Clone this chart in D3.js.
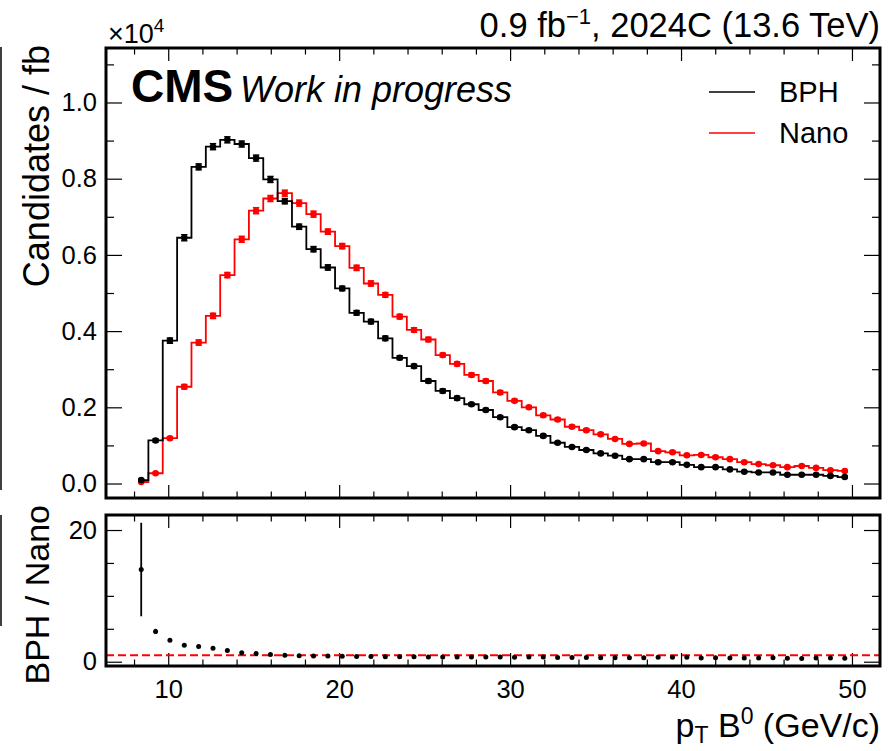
<!DOCTYPE html>
<html><head><meta charset="utf-8">
<script src="https://cdn.jsdelivr.net/npm/d3@7"></script>
<style>body{margin:0;background:#fff}svg{display:block}text{font-family:"Liberation Sans",Arial,Helvetica,sans-serif;fill:#000}</style>
</head><body><div id="chart"></div>
<script>
// ---- data ----
const binCenters = [8.42,9.26,10.10,10.94,11.78,12.62,13.46,14.30,15.14,15.98,16.82,17.66,18.50,19.34,20.18,21.02,21.86,22.70,23.54,24.38,25.22,26.06,26.90,27.74,28.58,29.42,30.26,31.10,31.94,32.78,33.62,34.46,35.30,36.14,36.98,37.82,38.66,39.50,40.34,41.18,42.02,42.86,43.70,44.54,45.38,46.22,47.06,47.90,48.74,49.58];
// Candidates / fb, in units of 1e4
const bphValues = [0.009,0.113,0.375,0.645,0.831,0.884,0.902,0.891,0.854,0.798,0.741,0.674,0.615,0.567,0.512,0.448,0.425,0.381,0.330,0.308,0.269,0.243,0.224,0.208,0.193,0.174,0.148,0.140,0.125,0.107,0.096,0.088,0.079,0.073,0.064,0.064,0.056,0.056,0.049,0.043,0.043,0.037,0.031,0.029,0.029,0.023,0.023,0.023,0.020,0.017];
const bphErrors = [0.002,0.004,0.007,0.008,0.008,0.008,0.008,0.008,0.008,0.008,0.007,0.007,0.007,0.007,0.006,0.006,0.006,0.006,0.005,0.005,0.005,0.005,0.005,0.004,0.004,0.004,0.004,0.004,0.004,0.003,0.003,0.003,0.003,0.003,0.003,0.003,0.003,0.003,0.002,0.002,0.002,0.002,0.002,0.002,0.002,0.002,0.002,0.002,0.002,0.002];
const nanoValues = [0.004,0.027,0.119,0.254,0.370,0.440,0.547,0.641,0.716,0.748,0.762,0.736,0.707,0.661,0.623,0.566,0.525,0.495,0.438,0.403,0.378,0.337,0.314,0.285,0.269,0.239,0.217,0.200,0.179,0.168,0.149,0.140,0.129,0.117,0.104,0.105,0.085,0.082,0.074,0.075,0.069,0.064,0.056,0.051,0.048,0.043,0.046,0.041,0.035,0.033];
const nanoErrors = [0.001,0.002,0.004,0.006,0.007,0.007,0.007,0.008,0.008,0.008,0.008,0.008,0.008,0.007,0.007,0.007,0.007,0.006,0.006,0.006,0.006,0.005,0.005,0.005,0.005,0.005,0.004,0.004,0.004,0.004,0.004,0.004,0.004,0.003,0.003,0.003,0.003,0.003,0.003,0.003,0.003,0.003,0.003,0.002,0.002,0.002,0.002,0.002,0.002,0.002];
const ratioValues = [14.0,4.6,3.25,2.5,2.3,2.05,1.70,1.38,1.24,1.09,0.97,0.92,0.87,0.86,0.82,0.79,0.81,0.77,0.75,0.76,0.71,0.72,0.71,0.73,0.72,0.73,0.68,0.70,0.70,0.64,0.65,0.63,0.61,0.62,0.62,0.61,0.66,0.68,0.66,0.57,0.62,0.58,0.55,0.57,0.60,0.53,0.50,0.56,0.57,0.52];
const ratioErrors = [7.1,0.4,0.12,0.06,0.04,0.03,0.02,0.02,0.02,0.02,0.02,0.02,0.02,0.02,0.02,0.02,0.02,0.02,0.02,0.02,0.02,0.02,0.02,0.02,0.02,0.02,0.02,0.02,0.02,0.02,0.02,0.02,0.02,0.02,0.02,0.02,0.03,0.03,0.03,0.03,0.03,0.03,0.03,0.03,0.03,0.03,0.03,0.03,0.03,0.03];
const seriesNames = ["BPH","Nano"];
const xMajorTicks = [10,20,30,40,50];
const yMainTicks = [0.0,0.2,0.4,0.6,0.8,1.0];
const yRatioTicks = [0,20];

// ---- layout ----
const W = 889, H = 751;
const L = 106, R = 880, mainTop = 48, mainBot = 498, ratTop = 515, ratBot = 666;
const x = d3.scaleLinear().domain([6.36, 51.64]).range([L, R]);
const y = d3.scaleLinear().domain([-0.038, 1.143]).range([mainBot, mainTop]);
const yr = d3.scaleLinear().domain([-0.65, 22.28]).range([ratBot, ratTop]);

const svg = d3.select("#chart").append("svg").attr("width", W).attr("height", H);

// stray edge lines (crop of neighbouring figure)
svg.append("line").attr("x1",1).attr("x2",1).attr("y1",47).attr("y2",490).attr("stroke","#000").attr("stroke-width",1.5);
svg.append("line").attr("x1",1).attr("x2",1).attr("y1",515).attr("y2",626).attr("stroke","#000").attr("stroke-width",1.5);

function ticksFor(g, top, bot, ys, yMaj, yMinor, xLabels, yFmt) {
  const xMinor = d3.range(8, 51, 2).filter(v => !xMajorTicks.includes(v));
  g.append("g").attr("transform",`translate(0,${bot})`)
    .call(d3.axisBottom(x).tickValues(xMajorTicks).tickSize(-13).tickPadding(14).tickFormat(xLabels ? d3.format("d") : ""));
  g.append("g").attr("transform",`translate(0,${bot})`)
    .call(d3.axisBottom(x).tickValues(xMinor).tickSize(-6.5).tickFormat(""));
  g.append("g").attr("transform",`translate(0,${top})`)
    .call(d3.axisTop(x).tickValues(xMajorTicks).tickSize(-13).tickFormat(""));
  g.append("g").attr("transform",`translate(0,${top})`)
    .call(d3.axisTop(x).tickValues(xMinor).tickSize(-6.5).tickFormat(""));
  g.append("g").attr("transform",`translate(${L},0)`)
    .call(d3.axisLeft(ys).tickValues(yMaj).tickSize(-16).tickPadding(9).tickFormat(yFmt));
  g.append("g").attr("transform",`translate(${L},0)`)
    .call(d3.axisLeft(ys).tickValues(yMinor).tickSize(-8).tickFormat(""));
  g.append("g").attr("transform",`translate(${R},0)`)
    .call(d3.axisRight(ys).tickValues(yMaj).tickSize(-16).tickFormat(""));
  g.append("g").attr("transform",`translate(${R},0)`)
    .call(d3.axisRight(ys).tickValues(yMinor).tickSize(-8).tickFormat(""));
  g.selectAll(".domain").remove();
  g.selectAll(".tick line").attr("stroke","#000").attr("stroke-width",1.2);
  g.selectAll(".tick text").style("font-size","25.5px").attr("fill","#000");
}

// ---- main panel ----
const gm = svg.append("g");
const mainMinor = d3.range(0, 1.1501, 0.1).map(v => +v.toFixed(2)).filter(v => Math.abs(v*10 % 2) > 0.5);
ticksFor(gm, mainTop, mainBot, y, yMainTicks, mainMinor, false, d3.format(".1f"));

const colors = {BPH: "#000000", Nano: "#ff0000"};
const series = [
  {name: "Nano", vals: nanoValues, errs: nanoErrors},
  {name: "BPH", vals: bphValues, errs: bphErrors}
];
const stepLine = d3.line().x(d => x(d[0])).y(d => y(d[1])).curve(d3.curveStep);
svg.append("clipPath").attr("id","cm").append("rect").attr("x",L).attr("y",mainTop).attr("width",R-L).attr("height",mainBot-mainTop);
series.forEach(s => {
  const c = colors[s.name];
  const pts = binCenters.map((b,i) => [b, s.vals[i]]);
  const g = gm.append("g").attr("clip-path","url(#cm)");
  g.append("path").attr("d", stepLine(pts)).attr("fill","none").attr("stroke",c).attr("stroke-width",1.8);
  const eb = g.selectAll(null).data(pts).enter().append("g");
  eb.append("line").attr("x1",d=>x(d[0])).attr("x2",d=>x(d[0]))
    .attr("y1",(d,i)=>y(d[1]-s.errs[i])).attr("y2",(d,i)=>y(d[1]+s.errs[i])).attr("stroke",c).attr("stroke-width",1.6);
  ["-","+"].forEach(sg => {
    eb.append("line").attr("x1",d=>x(d[0])-3.2).attr("x2",d=>x(d[0])+3.2)
      .attr("y1",(d,i)=>y(d[1]+(sg==="+"?1:-1)*s.errs[i])).attr("y2",(d,i)=>y(d[1]+(sg==="+"?1:-1)*s.errs[i]))
      .attr("stroke",c).attr("stroke-width",1.4);
  });
  eb.append("circle").attr("cx",d=>x(d[0])).attr("cy",d=>y(d[1])).attr("r",3.3).attr("fill",c);
});

// ---- ratio panel ----
const gr = svg.append("g");
ticksFor(gr, ratTop, ratBot, yr, yRatioTicks, [5,10,15], true, d3.format("d"));
gr.append("line").attr("x1",L).attr("x2",R).attr("y1",yr(1)).attr("y2",yr(1))
  .attr("stroke","#ff0000").attr("stroke-width",2).attr("stroke-dasharray","8,4");
const rpts = binCenters.map((b,i)=>[b, ratioValues[i], ratioErrors[i]]);
gr.selectAll(null).data(rpts).enter().append("line")
  .attr("x1",d=>x(d[0])).attr("x2",d=>x(d[0])).attr("y1",d=>yr(d[1]-d[2])).attr("y2",d=>yr(d[1]+d[2]))
  .attr("stroke","#000").attr("stroke-width",1.8);
gr.selectAll(null).data(rpts).enter().append("circle")
  .attr("cx",d=>x(d[0])).attr("cy",d=>yr(d[1])).attr("r",2.5).attr("fill","#000");

// frames
[[mainTop,mainBot],[ratTop,ratBot]].forEach(([t,b]) => {
  svg.append("rect").attr("x",L).attr("y",t).attr("width",R-L).attr("height",b-t)
    .attr("fill","none").attr("stroke","#000").attr("stroke-width",3);
});

// ---- texts ----
const t1 = svg.append("text").attr("x",R).attr("y",37).attr("text-anchor","end").style("font-size","34.5px");
t1.append("tspan").text("0.9 fb");
t1.append("tspan").attr("dy",-13).style("font-size","22px").text("\u22121");
t1.append("tspan").attr("dy",13).text(", 2024C (13.6 TeV)");

const t2 = svg.append("text").attr("x",108).attr("y",43).style("font-size","27px");
t2.append("tspan").text("\u00d710");
t2.append("tspan").attr("dy",-11).style("font-size","19px").text("4");

svg.append("text").attr("x",131).attr("y",102).style("font-size","46px").style("font-weight","bold").text("CMS");
svg.append("text").attr("x",240).attr("y",102).style("font-size","36px").style("font-style","italic").text("Work in progress");

// legend
seriesNames.forEach((n,i) => {
  const yy = 92 + i*41;
  svg.append("line").attr("x1",709).attr("x2",755).attr("y1",yy).attr("y2",yy).attr("stroke",colors[n]).attr("stroke-width",1.6);
  svg.append("text").attr("x",779).attr("y",yy+10).style("font-size","29px").text(n);
});

svg.append("text").attr("transform","translate(49,45) rotate(-90)").attr("text-anchor","end").style("font-size","36px").text("Candidates / fb");
svg.append("text").attr("transform","translate(49,505) rotate(-90)").attr("text-anchor","end").style("font-size","34px").text("BPH / Nano");

const xl = svg.append("text").attr("x",R).attr("y",737).attr("text-anchor","end").style("font-size","34px");
xl.append("tspan").text("p");
xl.append("tspan").attr("dy",6).style("font-size","23px").text("T");
xl.append("tspan").attr("dy",-6).text(" B");
xl.append("tspan").attr("dy",-13).style("font-size","23px").text("0");
xl.append("tspan").attr("dy",13).text(" (GeV/c)");
</script></body></html>
